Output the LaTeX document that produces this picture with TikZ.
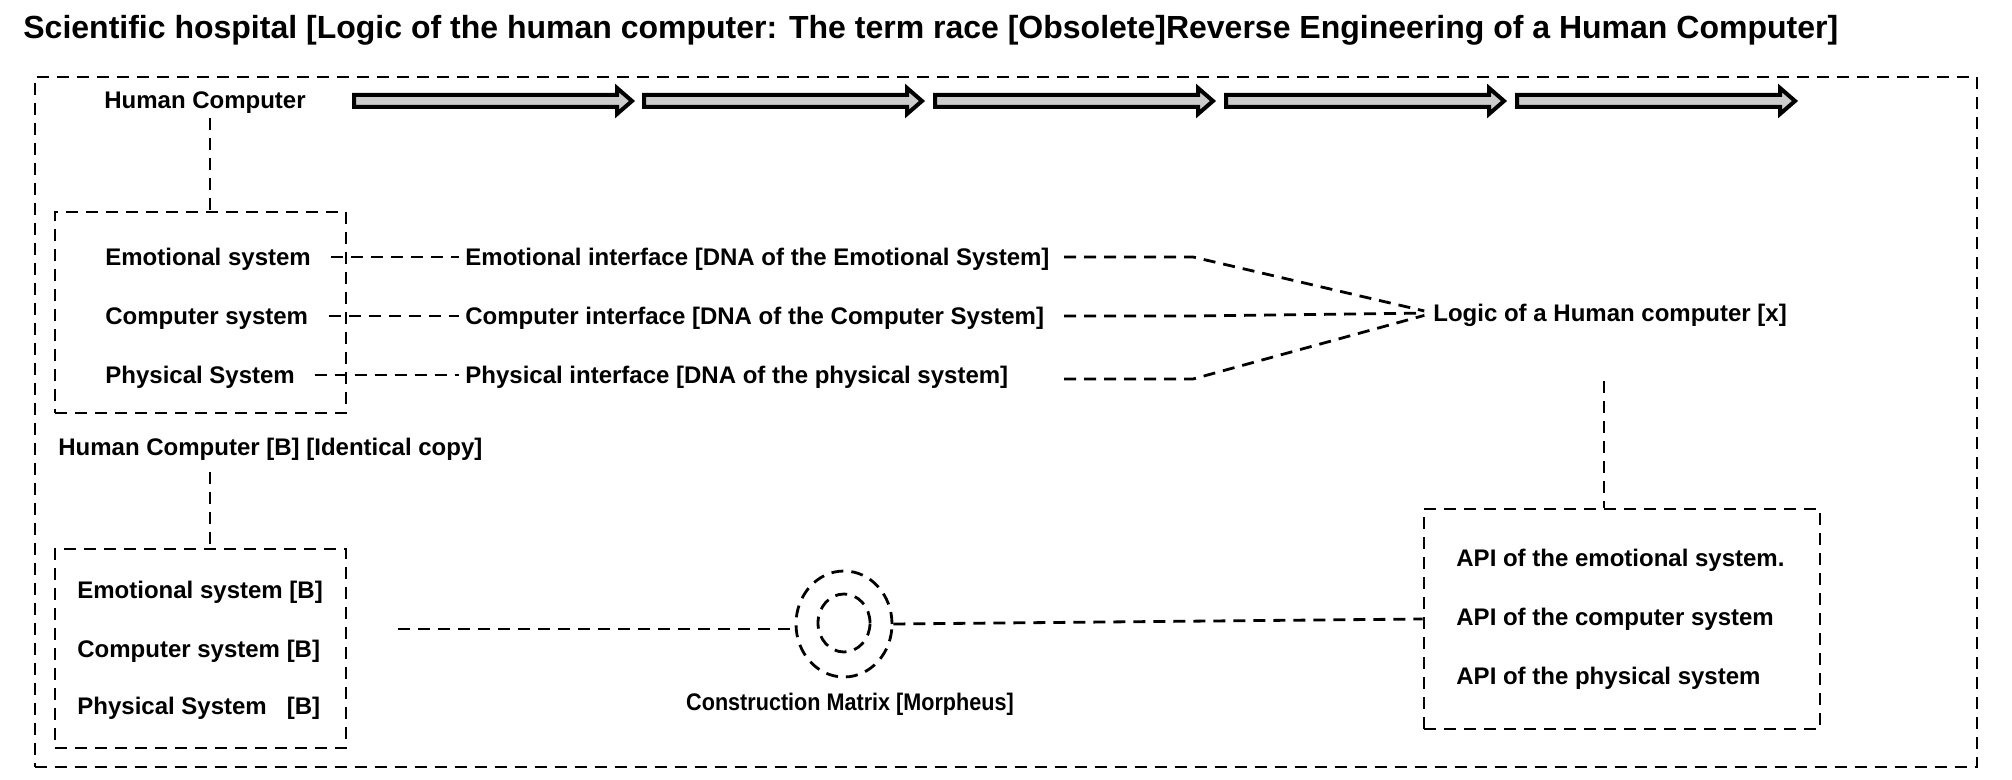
\documentclass[tikz,border=0pt]{standalone}
\usepackage{fontspec}
\setmainfont{Liberation Sans}
\newfontfamily\narrowsans[FakeStretch=0.9]{Liberation Sans}
\usetikzlibrary{shapes.geometric}
\begin{document}
\begin{tikzpicture}[x=0.5pt,y=-0.5pt,
  dsh/.style={dash pattern=on 6pt off 4pt, line width=1.4pt},
  box/.style={draw, dsh, inner sep=0pt},
  txt/.style={font=\fontsize{12pt}{14pt}\selectfont\bfseries, inner sep=0pt, text height=8.6pt, text depth=0pt, anchor=west},
  ttl/.style={font=\fontsize{16pt}{19pt}\selectfont\bfseries, inner sep=0pt, anchor=base west},
  blk/.style={draw, line width=2pt, fill=black!20, miter limit=10}]
\useasboundingbox (0,0) rectangle (2012,780);
% title
\node[ttl] (title) at (23,39) {Scientific hospital [Logic of the human computer: The term race [Obsolete]Reverse Engineering of a Human Computer]};
% outer frame
\node[box, minimum width=971pt, minimum height=345pt] (outer) at (1006,422) {};
% top row
\node[txt, anchor=center] (hc) at (205,100) {Human Computer};
\foreach \s in {352,642,933,1224,1515}
  \draw[blk] (\s+2,95) -- (\s+265,95) -- (\s+265,88) -- (\s+280,101) -- (\s+265,114) -- (\s+265,107) -- (\s+2,107) -- cycle;
% box A
\node[box, minimum width=145.5pt, minimum height=100.5pt] (boxA) at (200.5,312.5) {};
\coordinate (hcd) at (210,118);
\draw[dsh] (hcd) -- (hcd |- boxA.north);
\node[txt] (es) at (105,257) {Emotional system};
\node[txt] (cs) at (105,316) {Computer system};
\node[txt] (ps) at (105,375) {Physical System};
\node[txt] (ei) at (465,257) {Emotional interface [DNA of the Emotional System]};
\node[txt] (ci) at (465,316) {Computer interface [DNA of the Computer System]};
\node[txt] (pi) at (465,375) {Physical interface [DNA of the physical system]};
\draw[dsh, shorten <=10pt, shorten >=3pt] (es.east) -- (ei.west);
\draw[dsh, shorten <=10pt, shorten >=3pt] (cs.east) -- (ci.west);
\draw[dsh, shorten <=10pt, shorten >=3pt] (ps.east) -- (pi.west);
% logic
\node[txt] (lg) at (1433,313) {Logic of a Human computer [x]};
\coordinate (r1) at (1064,257); \coordinate (k1) at (1193,257);
\coordinate (r2) at (1064,316); \coordinate (k2) at (1193,316);
\coordinate (r3) at (1064,379); \coordinate (k3) at (1193,379);
\draw[dsh, shorten >=4.5pt] (r1) -- (k1) -- (lg.west);
\draw[dsh, shorten >=4.5pt] (r2) -- (k2) -- (lg.west);
\draw[dsh, shorten >=4.5pt] (r3) -- (k3) -- (lg.west);
% API box
\node[box, minimum width=198pt, minimum height=110pt] (api) at (1622,619) {};
\coordinate (lgd) at (1604,381);
\draw[dsh] (lgd) -- (lgd |- api.north);
\node[txt] (a1) at (1456,558) {API of the emotional system.};
\node[txt] (a2) at (1456,617) {API of the computer system};
\node[txt] (a3) at (1456,676) {API of the physical system};
% box B
\node[txt] (hcb) at (58,447) {Human Computer [B] [Identical copy]};
\node[box, minimum width=145.5pt, minimum height=99.5pt] (boxB) at (200.5,648.5) {};
\coordinate (hcbd) at (210,472);
\draw[dsh] (hcbd) -- (hcbd |- boxB.north);
\node[txt] (eb) at (77,590) {Emotional system [B]};
\node[txt] (cb) at (77,649) {Computer system [B]};
\node[txt] (pb) at (77,706) {Physical System\ \ \ [B]};
% construction matrix
\node[draw, dsh, ellipse, inner sep=0pt, minimum width=48pt, minimum height=53pt] (cm) at (844,624) {};
\node[draw, dsh, ellipse, inner sep=0pt, minimum width=26pt, minimum height=29pt] (cmi) at (844,623) {};
\node[txt, anchor=center, font=\fontsize{12pt}{14pt}\selectfont\narrowsans\bfseries] (cml) at (850,702) {Construction Matrix [Morpheus]};
\coordinate (bstart) at (398,629);
\draw[dsh] (bstart) -- (bstart -| cm.west);
\draw[dsh] (cm.east) -- (api.west);
\end{tikzpicture}
\end{document}
